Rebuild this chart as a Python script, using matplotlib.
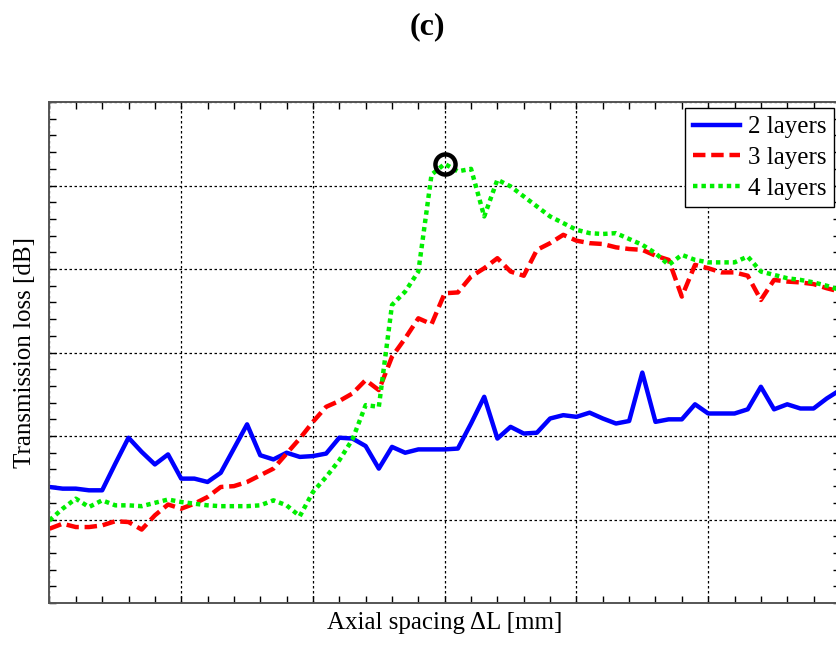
import numpy as np
import matplotlib
matplotlib.use('Agg')
from matplotlib import pyplot as plt
from matplotlib.ticker import MultipleLocator, NullFormatter

# axial spacing, in grid units (61 samples)
spacing = np.round(np.arange(0, 6.01, 0.1), 2)

layers2 = [1.39, 1.37, 1.37, 1.35, 1.35, 1.67, 1.98, 1.81, 1.66, 1.78,
           1.49, 1.49, 1.45, 1.56, 1.85, 2.14, 1.77, 1.72, 1.80, 1.75,
           1.76, 1.79, 1.98, 1.97, 1.88, 1.61, 1.87, 1.80, 1.84, 1.84,
           1.84, 1.85, 2.15, 2.47, 1.97, 2.11, 2.03, 2.04, 2.21, 2.25,
           2.23, 2.28, 2.21, 2.15, 2.18, 2.76, 2.17, 2.20, 2.20, 2.38,
           2.27, 2.27, 2.27, 2.32, 2.59, 2.32, 2.38, 2.33, 2.33, 2.45,
           2.55]
layers3 = [0.89, 0.95, 0.91, 0.91, 0.93, 0.98, 0.97, 0.88, 1.05, 1.18,
           1.13, 1.19, 1.27, 1.39, 1.40, 1.45, 1.53, 1.61, 1.79, 1.97,
           2.17, 2.35, 2.42, 2.51, 2.67, 2.55, 2.95, 3.17, 3.41, 3.34,
           3.71, 3.72, 3.91, 4.01, 4.13, 3.97, 3.92, 4.23, 4.31, 4.41,
           4.34, 4.31, 4.30, 4.26, 4.24, 4.23, 4.16, 4.11, 3.67, 4.05,
           4.01, 3.96, 3.96, 3.92, 3.63, 3.87, 3.85, 3.84, 3.82, 3.77,
           3.73]
layers4 = [0.99, 1.13, 1.25, 1.15, 1.23, 1.17, 1.17, 1.16, 1.20, 1.24,
           1.21, 1.19, 1.17, 1.16, 1.16, 1.16, 1.17, 1.23, 1.17, 1.04,
           1.33, 1.51, 1.71, 1.96, 2.37, 2.35, 3.57, 3.73, 3.97, 5.13,
           5.26, 5.17, 5.20, 4.63, 5.07, 4.99, 4.87, 4.75, 4.63, 4.55,
           4.47, 4.43, 4.42, 4.43, 4.36, 4.29, 4.19, 4.05, 4.17, 4.11,
           4.08, 4.08, 4.08, 4.15, 3.97, 3.93, 3.89, 3.87, 3.84, 3.80,
           3.75]
peak_idx = 30

plt.rcParams['font.family'] = ['Liberation Serif', 'DejaVu Serif']

fig = plt.figure(figsize=(8.37, 6.48), dpi=100)
ax = fig.add_axes([0.0591, 0.0694, 0.9444, 0.7731])

ax.plot(spacing, layers2, color='#0000ff', lw=3.2, label='2 layers')
ax.plot(spacing, layers3, color='#ff0000', lw=3.2, ls=(0, (2.8, 1.3)), label='3 layers')
ax.plot(spacing, layers4, color='#00ee00', lw=3.2, ls=(0, (1.0, 0.9)), label='4 layers')
ax.plot(spacing[peak_idx], layers4[peak_idx], marker='o', ms=14.5, mfc='none',
        mec='black', mew=3.2)

ax.set_xlim(0, 6)
ax.set_ylim(0, 6)
ax.xaxis.set_major_locator(MultipleLocator(1))
ax.xaxis.set_minor_locator(MultipleLocator(0.2))
ax.yaxis.set_major_locator(MultipleLocator(1))
ax.yaxis.set_minor_locator(MultipleLocator(0.2))
ax.xaxis.set_major_formatter(NullFormatter())
ax.yaxis.set_major_formatter(NullFormatter())
ax.tick_params(which='both', direction='in', top=True, right=True,
               length=5, width=1, color='black')
ax.grid(True, which='major', color='black', ls=(0, (2, 2)), lw=0.9)
for s in ax.spines.values():
    s.set_color('#555555')
    s.set_linewidth(1.4)

ax.set_xlabel('Axial spacing \u0394L [mm]', fontsize=18, labelpad=3)
ax.set_ylabel('Transmission loss [dB]', fontsize=18, labelpad=6)
fig.text(0.511, 0.958, '(c)', fontsize=23, fontweight='bold', ha='center', va='center')

leg = ax.legend(loc='upper right', fontsize=18, handlelength=1.9, borderaxespad=0.25,
                fancybox=False, framealpha=1, edgecolor='black',
                borderpad=0.3, labelspacing=0.33, handletextpad=0.3)
leg.get_frame().set_linewidth(1.0)

fig.savefig('out.png', dpi=100)
